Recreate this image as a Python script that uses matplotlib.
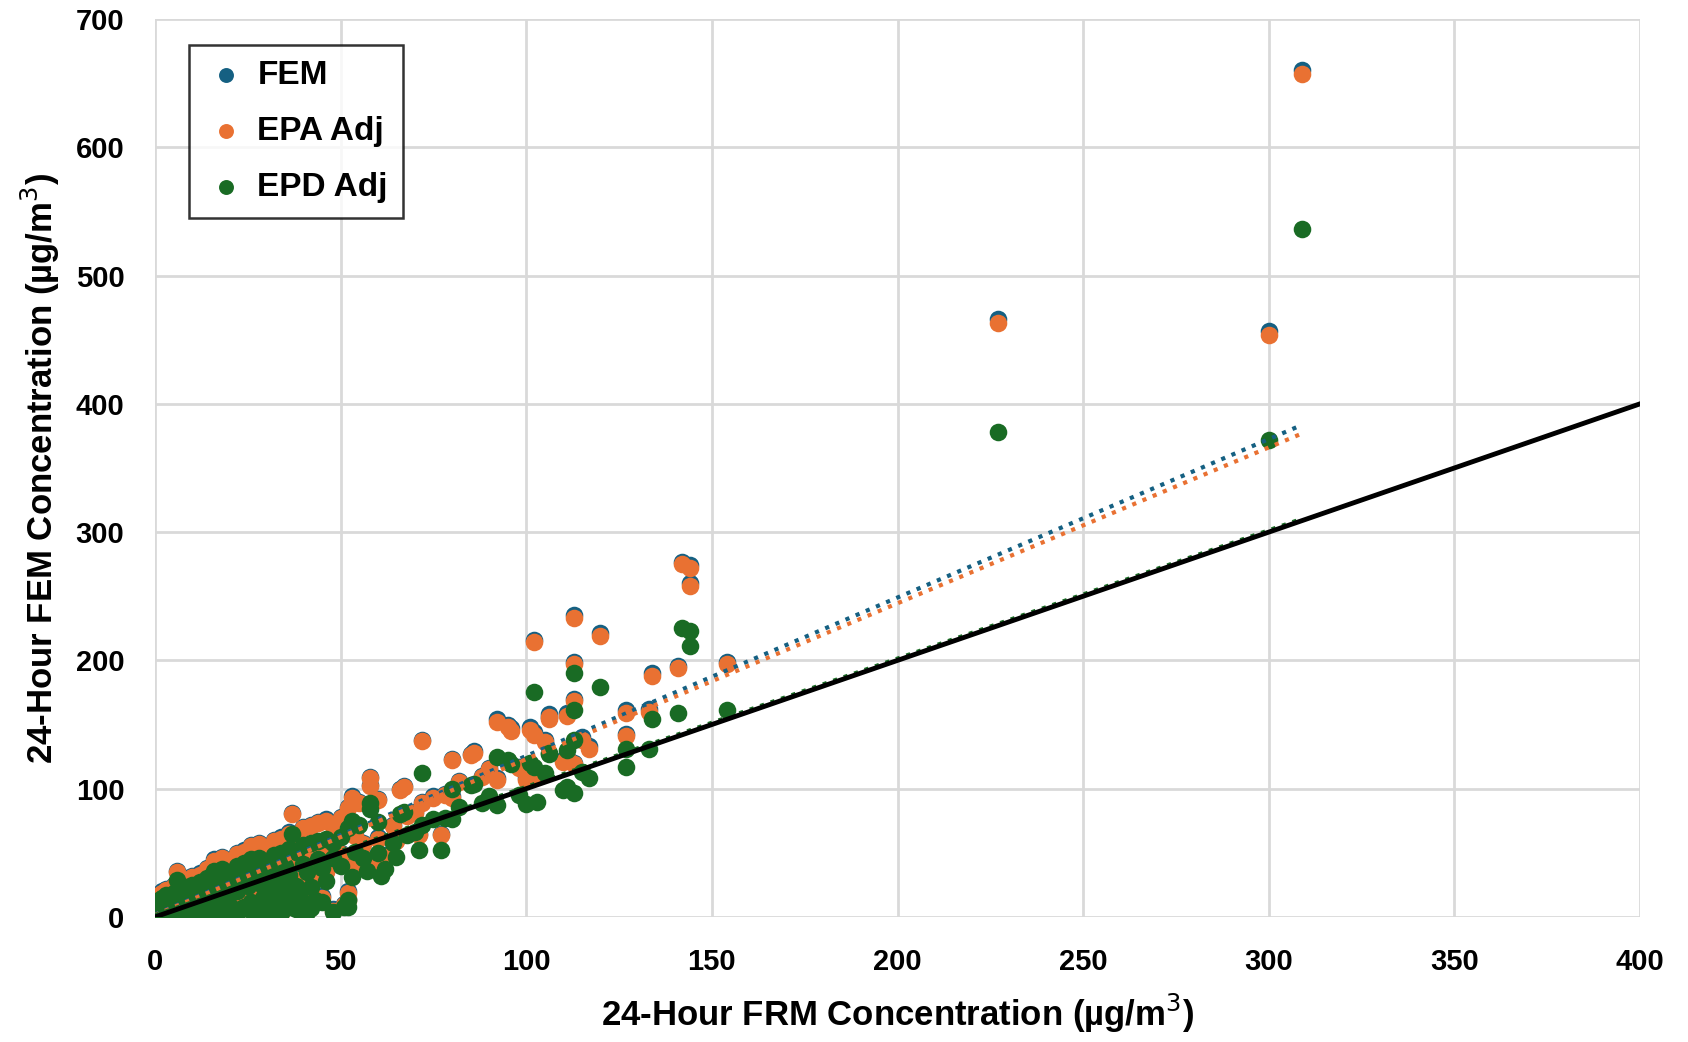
import matplotlib
matplotlib.use('Agg')
import matplotlib.pyplot as plt
from matplotlib import font_manager
import numpy as np

# 24-hour FRM vs FEM
frm = [0.5, 1, 2, 3, 5, 6, 8, 10, 12, 14, 16, 18, 20, 22, 24, 26, 28, 30, 32, 34,
       36, 37, 38, 40, 42, 44, 46, 48, 50, 52, 53, 55, 58, 58, 60,
       1, 2, 3, 4, 5, 6, 7, 8, 9, 10, 11, 12, 13, 14, 15, 16, 17, 18, 19, 20,
       21, 22, 23, 24, 25, 26, 27, 28, 29, 30, 31, 32, 33, 34, 35, 36, 37, 38, 39, 40,
       41, 42, 43, 44, 45, 46, 48, 48, 50, 51, 52, 52, 53, 54, 56, 57, 60, 61, 62, 64,
       65, 66, 67, 68, 70, 71, 72, 72, 75, 77, 78, 80, 80, 82, 85, 86, 88, 90, 92, 92,
       95, 96, 98, 100, 101, 102, 102, 103, 105, 106, 106, 110, 111, 111, 113, 113, 113, 113, 115, 117,
       120, 127, 127, 133, 134, 141, 142, 144, 144, 154, 227, 300, 309,
       2, 4, 6, 8, 10, 12, 15, 18, 21, 24, 27, 30, 33, 36, 39, 42, 45,
       3, 6, 9, 12, 14, 17, 20, 22, 25, 27, 28, 30, 31, 33, 34, 35, 36, 37, 38, 40,
       41, 39, 43, 11, 19, 26, 29, 32, 35, 38]
fem = [14, 18, 20, 22, 25, 36, 30, 32, 34, 38, 45, 47, 44, 50, 52, 56, 58, 55, 60, 62,
       66, 81, 64, 70, 72, 74, 76, 72, 78, 86, 94, 90, 109, 103, 92,
       4, 8, 12, 6, 14, 10, 18, 12, 22, 16, 8, 24, 14, 6, 28, 18, 10, 32, 22, 12,
       36, 26, 8, 40, 30, 16, 44, 34, 20, 10, 46, 38, 24, 14, 50, 42, 28, 8, 18, 52,
       44, 30, 16, 56, 48, 36, 6, 58, 50, 10, 20, 14, 40, 64, 58, 46, 62, 40, 48, 72,
       60, 100, 102, 80, 82, 65, 138, 90, 94, 65, 96, 123, 94, 106, 127, 129, 110, 116, 154, 108,
       150, 147, 117, 108, 148, 144, 216, 112, 138, 156, 158, 122, 159, 125, 199, 235, 170, 120, 140, 133,
       221, 161, 143, 162, 190, 196, 277, 274, 260, 199, 466, 457, 660,
       3, 5, 4, 6, 5, 7, 9, 8, 6, 10, 7, 12, 9, 14, 11, 10, 16,
       2, 3, 4, 3, 10, 4, 6, 4, 8, 12, 5, 18, 6, 14, 4, 22, 10, 18, 26, 12,
       6, 8, 16, 28, 34, 36, 30, 42, 32, 30]
epa = [13, 17, 19, 21, 24, 35, 29, 31, 33, 37, 44, 46, 43, 49, 51, 55, 57, 54, 59, 61,
       65, 80, 63, 69, 71, 73, 75, 71, 77, 85, 93, 89, 108, 102, 91,
       3, 7, 11, 5, 13, 9, 17, 11, 21, 15, 7, 23, 13, 5, 27, 17, 9, 31, 21, 11,
       35, 25, 7, 39, 29, 15, 43, 33, 19, 9, 45, 37, 23, 13, 49, 41, 27, 7, 17, 51,
       43, 29, 15, 55, 47, 35, 5, 57, 49, 9, 19, 13, 39, 63, 57, 45, 61, 39, 47, 71,
       59, 99, 101, 79, 81, 64, 137, 89, 93, 64, 95, 122, 93, 105, 126, 128, 109, 115, 152, 107,
       148, 145, 116, 107, 146, 142, 214, 111, 136, 154, 156, 121, 157, 124, 197, 233, 168, 119, 138, 131,
       219, 159, 141, 160, 188, 194, 275, 272, 258, 197, 463, 454, 657,
       2, 4, 3, 5, 4, 6, 8, 7, 5, 9, 6, 11, 8, 13, 10, 9, 15,
       2, 2, 3, 2, 9, 3, 5, 3, 7, 11, 4, 17, 5, 13, 3, 21, 9, 17, 25, 11,
       5, 7, 15, 27, 33, 35, 29, 41, 31, 29]
epd = [10, 13, 15, 17, 19, 29, 23, 25, 27, 30, 36, 37, 35, 40, 42, 45, 46, 44, 48, 50,
       53, 65, 51, 56, 58, 59, 61, 58, 62, 69, 75, 72, 89, 84, 74,
       3, 6, 9, 4, 11, 8, 14, 9, 17, 12, 6, 19, 11, 4, 22, 14, 7, 25, 17, 9,
       28, 20, 6, 32, 24, 12, 35, 27, 15, 7, 37, 30, 19, 11, 40, 33, 22, 6, 14, 41,
       35, 23, 12, 45, 38, 28, 4, 46, 40, 8, 13, 8, 31, 51, 46, 36, 50, 32, 37, 58,
       47, 80, 82, 64, 66, 52, 112, 72, 76, 52, 77, 100, 76, 86, 103, 104, 89, 94, 125, 87,
       122, 119, 95, 88, 120, 117, 175, 90, 112, 127, 128, 99, 130, 101, 161, 190, 138, 97, 113, 108,
       179, 131, 117, 131, 154, 159, 225, 223, 211, 161, 378, 372, 536,
       2, 4, 3, 5, 4, 5, 7, 6, 4, 8, 5, 9, 7, 11, 8, 7, 12,
       1, 2, 3, 2, 8, 3, 4, 3, 6, 9, 4, 14, 4, 11, 3, 17, 8, 14, 20, 9,
       4, 6, 13, 22, 27, 29, 24, 34, 26, 24]

# linear trend lines (slope, intercept) as shown on the chart
trend_fem = (1.235, 2.0)
trend_epa = (1.215, 1.5)
trend_epd = (1.000, 1.4)

one_to_one = [0, 400]
xticks = np.arange(0, 401, 50)
yticks = np.arange(0, 701, 100)

c_fem = '#156082'
c_epa = '#E97132'
c_epd = '#196B24'

names = set(f.name for f in font_manager.fontManager.ttflist)
narrow = 'Liberation Sans Narrow' if 'Liberation Sans Narrow' in names else 'Liberation Sans'
wide = 'Liberation Sans'

fig = plt.figure(figsize=(16.88, 10.42), dpi=100)
ax = fig.add_axes([0.0918, 0.12, 0.8798, 0.8618])

ax.scatter(frm, fem, s=160, color=c_fem, label='FEM', zorder=3, linewidths=0)
ax.scatter(frm, epa, s=160, color=c_epa, label='EPA Adj', zorder=3, linewidths=0)
ax.scatter(frm, epd, s=160, color=c_epd, label='EPD Adj', zorder=3, linewidths=0)

xt = np.array([0, max(frm)])
ax.plot(xt, trend_fem[0] * xt + trend_fem[1], ':', color=c_fem, lw=3, zorder=4)
ax.plot(xt, trend_epa[0] * xt + trend_epa[1], ':', color=c_epa, lw=3, zorder=4)
ax.plot(xt, trend_epd[0] * xt + trend_epd[1], ':', color=c_epd, lw=3, zorder=4)

ax.plot(one_to_one, one_to_one, color='black', lw=3.5, zorder=5)

ax.set_xlim(0, 400)
ax.set_ylim(0, 700)
ax.set_xticks(xticks)
ax.set_yticks(yticks)
ax.grid(True, color='#d9d9d9', lw=2)
ax.set_axisbelow(True)
for s in ax.spines.values():
    s.set_visible(False)
ax.tick_params(length=0, pad=22)
for lab in ax.get_xticklabels():
    lab.set_fontfamily(narrow)
    lab.set_fontweight('bold')
    lab.set_fontsize(21)
for lab in ax.get_yticklabels():
    lab.set_fontfamily(wide)
    lab.set_fontweight('bold')
    lab.set_fontsize(21)

ax.set_xlabel('24-Hour FRM Concentration (\u00b5g/m$^3$)', fontfamily=narrow,
              fontweight='bold', fontsize=25, labelpad=12)
ax.set_ylabel('24-Hour FEM Concentration (\u00b5g/m$^3$)', fontfamily=narrow,
              fontweight='bold', fontsize=25, labelpad=10)

leg = ax.legend(loc='upper left', bbox_to_anchor=(0.023, 0.971), frameon=True,
                fancybox=False, edgecolor='black', markerscale=0.85, borderaxespad=0,
                prop={'family': narrow, 'weight': 'bold', 'size': 24},
                handletextpad=0.3, borderpad=0.45, labelspacing=0.75, handlelength=1.3)
leg.get_frame().set_linewidth(1.8)

plt.savefig('out.png', dpi=100)
